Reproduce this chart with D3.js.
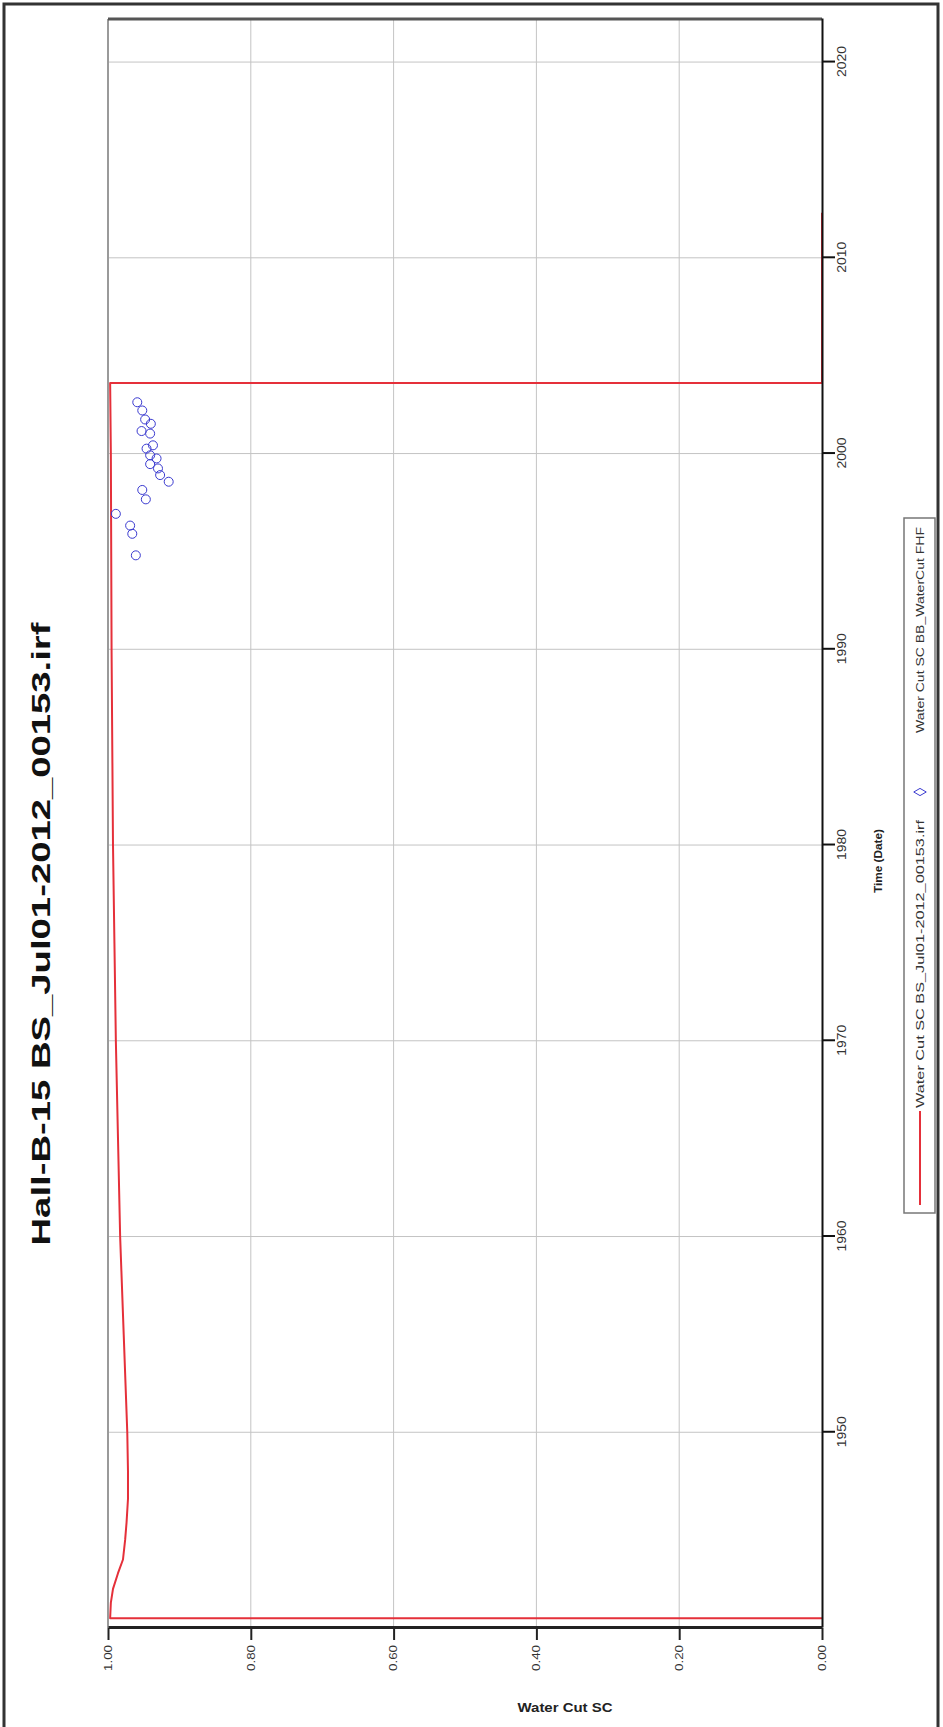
<!DOCTYPE html>
<html>
<head>
<meta charset="utf-8">
<script src="https://cdn.jsdelivr.net/npm/d3@7"></script>
<style>
  html, body { margin: 0; padding: 0; background: #fff; }
  svg { display: block; font-family: "Liberation Sans", Arial, sans-serif; }
</style>
</head>
<body>
<svg id="chart" width="943" height="1727"></svg>
<script>
// Simulated water cut (red line): time in decimal years, water cut fraction
const simYears = [1940.5, 1940.5, 1941.3, 1942.0, 1942.8, 1943.5, 1944.5, 1945.4, 1946.6, 1948, 1950, 1955, 1960, 1965, 1970, 1975, 1980, 1990, 2000, 2003.6, 2003.6, 2012.3];
const simWaterCut = [0, 0.997, 0.996, 0.993, 0.986, 0.979, 0.976, 0.974, 0.972, 0.972, 0.973, 0.978, 0.983, 0.986, 0.989, 0.991, 0.993, 0.995, 0.996, 0.997, 0, 0];

// Observed water cut (blue circles)
const obsYears = [2002.62, 2002.20, 2001.74, 2001.52, 2001.15, 2001.02, 2000.42, 2000.25, 1999.75, 1999.91, 1999.46, 1999.24, 1998.90, 1998.56, 1998.14, 1997.66, 1996.92, 1996.32, 1995.90, 1994.80];
const obsWaterCut = [0.959, 0.952, 0.948, 0.940, 0.953, 0.941, 0.937, 0.946, 0.932, 0.941, 0.941, 0.930, 0.927, 0.915, 0.952, 0.947, 0.989, 0.969, 0.966, 0.961];

// Axis ticks
const yearTicks = [1950, 1960, 1970, 1980, 1990, 2000, 2010, 2020];
const cutTicks = [0, 0.2, 0.4, 0.6, 0.8, 1.0];
const cutTickLabels = ["0.00", "0.20", "0.40", "0.60", "0.80", "1.00"];
const timeDomain = [1940, 2022.2];

const titleText = "Hall-B-15 BS_Jul01-2012_00153.irf";
const xTitle = "Time (Date)";
const yTitle = "Water Cut SC";
const legendSim = "Water Cut SC BS_Jul01-2012_00153.irf";
const legendObs = "Water Cut SC BB_WaterCut FHF";

const W = 943, H = 1727;
const svg = d3.select("#chart");

// page border
svg.append("rect")
  .attr("x", 4).attr("y", 4).attr("width", 934).attr("height", 1740)
  .attr("fill", "none").attr("stroke", "#333").attr("stroke-width", 3);

// The chart is laid out landscape (time along x) and turned a quarter turn.
// Landscape frame: width = H, height = W.
const g = svg.append("g").attr("transform", `translate(0,${H}) rotate(-90)`);

const plot = { left: 99, right: 1708, top: 108, bottom: 822 };

const x = d3.scaleLinear().domain(timeDomain).range([plot.left, plot.right]);
const y = d3.scaleLinear().domain([0, 1]).range([plot.bottom, plot.top]);

// gridlines
g.append("g").selectAll("line").data(yearTicks).join("line")
  .attr("x1", d => x(d)).attr("x2", d => x(d))
  .attr("y1", plot.top).attr("y2", plot.bottom)
  .attr("stroke", "#c4c4c4").attr("stroke-width", 1);
g.append("g").selectAll("line").data(cutTicks.slice(1, -1)).join("line")
  .attr("x1", plot.left).attr("x2", plot.right)
  .attr("y1", d => y(d)).attr("y2", d => y(d))
  .attr("stroke", "#c4c4c4").attr("stroke-width", 1);

// frame: top (gray) and far end (dark)
g.append("line").attr("x1", plot.left).attr("x2", plot.right)
  .attr("y1", plot.top).attr("y2", plot.top)
  .attr("stroke", "#9a9a9a").attr("stroke-width", 2);
g.append("line").attr("x1", plot.right).attr("x2", plot.right)
  .attr("y1", plot.top).attr("y2", plot.bottom)
  .attr("stroke", "#555").attr("stroke-width", 3);

// simulated line
const line = d3.line().x((d, i) => x(simYears[i])).y((d, i) => y(simWaterCut[i]));
g.append("path").datum(simYears)
  .attr("d", line)
  .attr("fill", "none").attr("stroke", "#e5303a").attr("stroke-width", 2)
  .attr("stroke-linejoin", "round");

// observed points
g.append("g").selectAll("circle").data(obsYears).join("circle")
  .attr("cx", d => x(d))
  .attr("cy", (d, i) => y(obsWaterCut[i]))
  .attr("r", 4.5)
  .attr("fill", "none").attr("stroke", "#3a3ad0").attr("stroke-width", 1);

// time axis
const xAxis = g.append("g").attr("transform", `translate(0,${plot.bottom})`)
  .call(d3.axisBottom(x).tickValues(yearTicks).tickFormat(d3.format("d")).tickSize(13).tickPadding(2).tickSizeOuter(0));
xAxis.select(".domain").attr("stroke", "#111").attr("stroke-width", 2);
xAxis.selectAll(".tick line").attr("stroke", "#111").attr("stroke-width", 2);
xAxis.selectAll("text").attr("font-size", 13).attr("fill", "#333")
  .attr("textLength", 31).attr("lengthAdjust", "spacingAndGlyphs");

// water cut axis
const yAxis = g.append("g").attr("transform", `translate(${plot.left},0)`)
  .call(d3.axisLeft(y).tickValues(cutTicks).tickFormat((d, i) => cutTickLabels[i]).tickSize(12).tickPadding(5).tickSizeOuter(0));
yAxis.select(".domain").attr("stroke", "#222").attr("stroke-width", 3);
yAxis.selectAll(".tick line").attr("stroke", "#222").attr("stroke-width", 2);
yAxis.selectAll("text").attr("font-size", 10).attr("fill", "#333")
  .attr("textLength", 26).attr("lengthAdjust", "spacingAndGlyphs");

// title
g.append("text")
  .attr("x", 793).attr("y", 50)
  .attr("text-anchor", "middle")
  .attr("font-size", 25).attr("font-weight", "bold").attr("fill", "#111")
  .attr("textLength", 623).attr("lengthAdjust", "spacingAndGlyphs")
  .text(titleText);

// time axis title
g.append("text")
  .attr("x", 866).attr("y", 882)
  .attr("text-anchor", "middle")
  .attr("font-size", 11).attr("font-weight", "bold").attr("fill", "#222")
  .attr("textLength", 64).attr("lengthAdjust", "spacingAndGlyphs")
  .text(xTitle);

// legend
const lg = g.append("g");
lg.append("rect").attr("x", 514).attr("y", 904).attr("width", 695).attr("height", 31)
  .attr("fill", "#fff").attr("stroke", "#777").attr("stroke-width", 1.5);
lg.append("line").attr("x1", 522).attr("x2", 616).attr("y1", 920).attr("y2", 920)
  .attr("stroke", "#e5303a").attr("stroke-width", 2);
lg.append("text").attr("x", 619).attr("y", 924)
  .attr("font-size", 10).attr("fill", "#333")
  .attr("textLength", 288).attr("lengthAdjust", "spacingAndGlyphs")
  .text(legendSim);
lg.append("path")
  .attr("transform", "translate(935,920)")
  .attr("d", d3.symbol(d3.symbolDiamond, 45)())
  .attr("fill", "none").attr("stroke", "#3a3ad0").attr("stroke-width", 1);
lg.append("text").attr("x", 994).attr("y", 924)
  .attr("font-size", 10).attr("fill", "#333")
  .attr("textLength", 206).attr("lengthAdjust", "spacingAndGlyphs")
  .text(legendObs);

// water cut axis title (upright on the page)
svg.append("text")
  .attr("x", 565).attr("y", 1712)
  .attr("text-anchor", "middle")
  .attr("font-size", 12).attr("font-weight", "bold").attr("fill", "#222")
  .attr("textLength", 95).attr("lengthAdjust", "spacingAndGlyphs")
  .text(yTitle);
</script>
</body>
</html>
